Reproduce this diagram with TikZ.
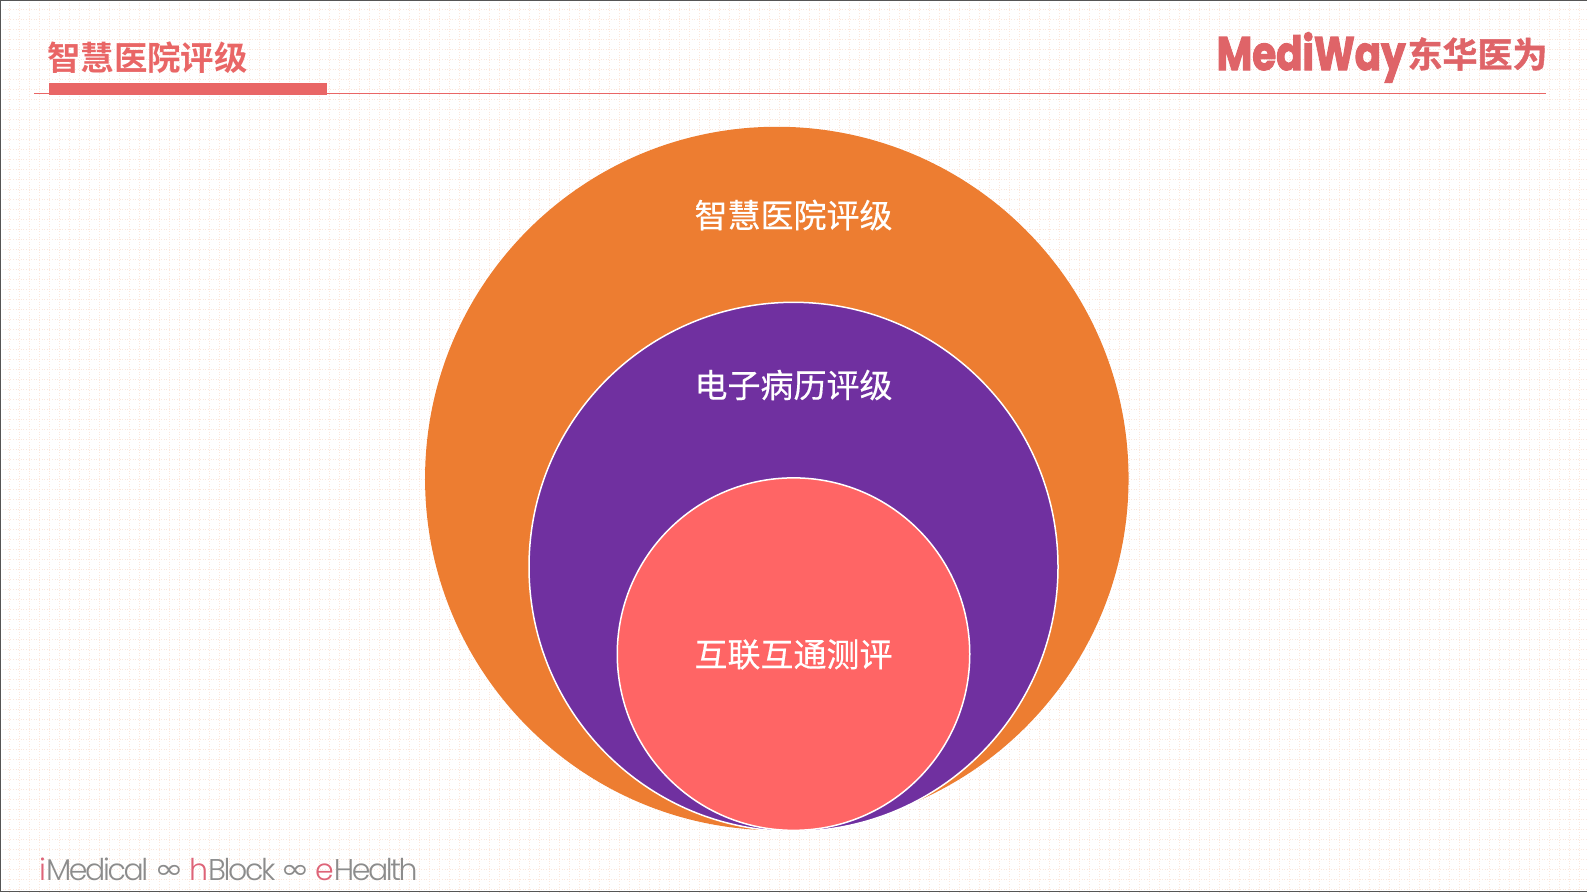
\documentclass[tikz,border=0pt]{standalone}
\usepackage{fontspec}
\usepackage{graphicx}
\newfontfamily\cjkreg{Noto Sans CJK SC}[FakeBold=0.4]
\newfontfamily\cjkbold{Noto Sans CJK SC Bold}
\newfontfamily\logocjk{Noto Sans CJK SC Bold}[FakeBold=1.2]
\newfontfamily\logofont{Poppins}[UprightFont=* Bold,FakeBold=2.5]
\newfontfamily\tagfont{Poppins}[UprightFont=* Light,LetterSpace=-8]
\newfontfamily\symfont{DejaVu Sans}
\definecolor{orangeC}{HTML}{ED7D31}
\definecolor{purpleC}{HTML}{7030A0}
\definecolor{redC}{HTML}{FF6565}
\definecolor{ruleC}{HTML}{E96666}
\definecolor{logoC}{HTML}{DF6468}
\definecolor{gridC}{HTML}{FBE7DC}
\definecolor{edgeC}{HTML}{555555}
\definecolor{tagC}{HTML}{8C8C8C}
\definecolor{tagR}{HTML}{DE6478}
\tikzset{
  ring/.style={circle,inner sep=0pt,outer sep=0pt},
  lab/.style={inner sep=0pt,text=white,font=\cjkreg\fontsize{33}{36}\selectfont},
  tag/.style={inner sep=0pt,anchor=base west,text=tagC,font=\tagfont\fontsize{30}{32}\selectfont},
  sym/.style={inner sep=0pt,anchor=center,text=tagC,font=\symfont\fontsize{27}{30}\selectfont},
  griddot/.style={gridC,line width=0.9pt,dash pattern=on 1pt off 1.6pt},
}
\begin{document}
\begin{tikzpicture}[x=1pt,y=-1pt]
\useasboundingbox (0,0) rectangle (1587,892);
\fill[white] (0,0) rectangle (1587,892);
\foreach \yy in {9,19,...,889} {\draw[griddot] (0,\yy) -- (1587,\yy);}
\foreach \xx in {9,19,...,1579} {\draw[griddot] (\xx,0) -- (\xx,892);}
\draw[edgeC,line width=1.2pt] (0,891.5) -- (0,0.5) -- (1587,0.5);
\draw[edgeC,line width=1.2pt] (0,891.5) -- (1587,891.5);
% header
\coordinate (ruleL) at (34,93.5);
\coordinate (ruleR) at (1546,93.5);
\draw[ruleC,line width=1pt] (ruleL) -- (ruleR);
\fill[ruleC] (49,83) rectangle (327,95);
\node[inner sep=0pt,anchor=center,text=ruleC,font=\cjkbold\fontsize{33.4}{36}\selectfont] (title) at (147.5,58) {智慧医院评级};
\node[inner sep=0pt,anchor=base west,text=logoC,font=\logofont\fontsize{47}{50}\selectfont] (logoA) at (1216.5,70) {\scalebox{0.825}[1]{MediWay}};
\node[inner sep=0pt,anchor=center,text=logoC,font=\logocjk\fontsize{35}{38}\selectfont] (logoB) at (1477.5,54) {东华医为};
% circles
\node[ring,fill=orangeC,minimum size=703.5pt] (outer) at (776.8,478.5) {};
\node[ring,fill=purpleC,draw=white,line width=1.5pt,minimum size=529pt] (middle) at (793.5,566.8) {};
\node[ring,fill=redC,draw=white,line width=1.5pt,minimum size=352.5pt] (inner) at (793.5,654.1) {};
\node[lab] (l1) at (793.5,215) {智慧医院评级};
\node[lab] (l2) at (793.5,385) {电子病历评级};
\node[lab] (l3) at (793.5,654.5) {互联互通测评};
% footer
\node[tag] (t1) at (39,880) {\textcolor{tagR}{i}Medical};
\node[sym] (s1) at (169,871.5) {\scalebox{1.3}[1]{∞}};
\node[tag] (t2) at (189,880) {\textcolor{tagR}{h}Block};
\node[sym] (s2) at (295,871.5) {\scalebox{1.3}[1]{∞}};
\node[tag] (t3) at (315,880) {\textcolor{tagR}{e}Health};
\end{tikzpicture}
\end{document}
